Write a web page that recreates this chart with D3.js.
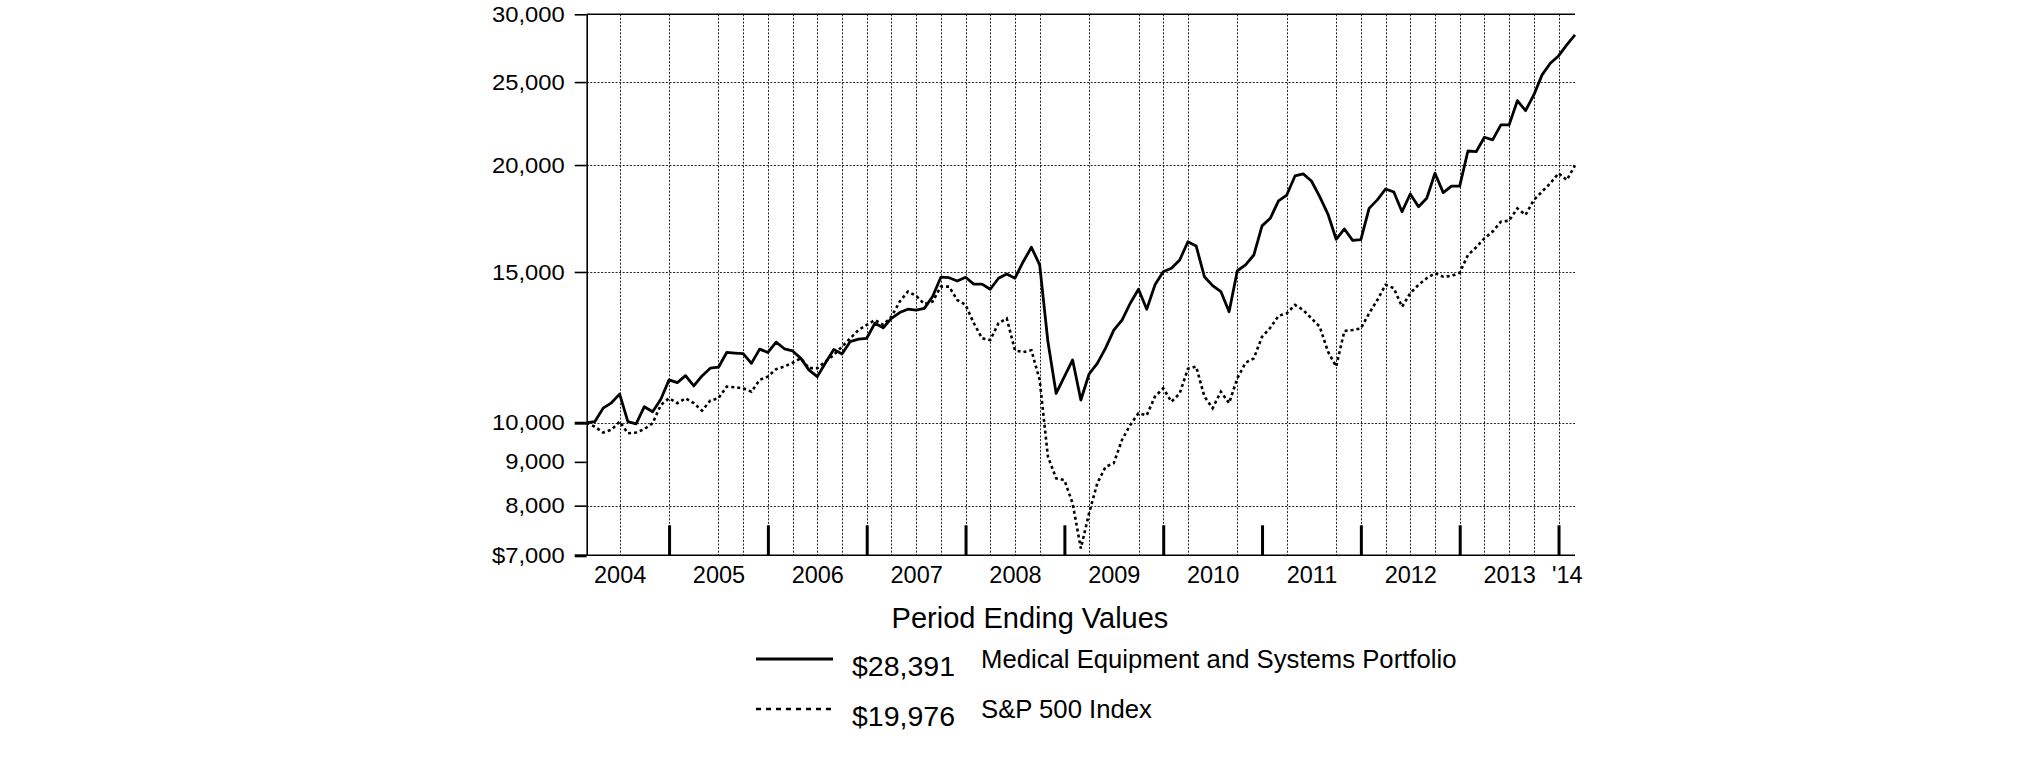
<!DOCTYPE html>
<html><head><meta charset="utf-8">
<script src="https://cdn.jsdelivr.net/npm/d3@7"></script>
<style>html,body{margin:0;padding:0;background:#fff;} svg{display:block;}</style>
</head><body>
<svg id="chart" width="2025" height="761"></svg>
<script>
// ---- data (month-end values, Feb 2004 .. Feb 2014) ----
const portfolio = [
10000, 10030, 10400, 10550, 10800, 10030, 9970, 10440, 10300, 10650,
11220, 11140, 11350, 11040, 11340, 11580, 11610, 12080, 12060, 12040,
11730, 12190, 12080, 12420, 12200, 12130, 11890, 11520, 11320, 11750,
12180, 12030, 12440, 12520, 12550, 13070, 12910, 13240, 13450, 13570,
13540, 13600, 14040, 14790, 14770, 14640, 14790, 14520, 14520, 14320,
14750, 14920, 14750, 15420, 16030, 15290, 12440, 10820, 11320, 11840,
10630, 11400, 11730, 12220, 12830, 13180, 13790, 14320, 13570, 14490,
15010, 15150, 15490, 16270, 16090, 14810, 14460, 14230, 13480, 15050,
15290, 15700, 16980, 17330, 18160, 18450, 19420, 19530, 19160, 18370,
17530, 16380, 16840, 16330, 16360, 17800, 18210, 18750, 18600, 17640,
18500, 17880, 18290, 19560, 18570, 18900, 18900, 20770, 20730, 21550,
21400, 22280, 22280, 23780, 23150, 24150, 25490, 26300, 26820, 27630,
28391];
const sp500 = [
10000, 9890, 9740, 9810, 10030, 9720, 9740, 9830, 9985, 10490,
10680, 10540, 10680, 10540, 10330, 10610, 10680, 11020, 11000, 10970,
10870, 11220, 11320, 11550, 11630, 11750, 11890, 11580, 11580, 11790,
12000, 12270, 12550, 12830, 13010, 13180, 13010, 13300, 13850, 14230,
14070, 13760, 13850, 14420, 14420, 13910, 13730, 13070, 12550, 12490,
13070, 13240, 12150, 12090, 12150, 11220, 9130, 8610, 8570, 8050,
7130, 7840, 8500, 8880, 8970, 9550, 9940, 10260, 10200, 10730,
10970, 10580, 10820, 11560, 11630, 10730, 10400, 10870, 10540, 11270,
11750, 11890, 12600, 12910, 13330, 13420, 13730, 13540, 13240, 12950,
12110, 11630, 12800, 12830, 12890, 13420, 13910, 14490, 14360, 13660,
14170, 14490, 14750, 14950, 14810, 14840, 14970, 15700, 16030, 16420,
16720, 17170, 17220, 17800, 17490, 18210, 18620, 19040, 19560, 19210,
19976];
const firstMonth = "2004-02";
const lastMonth = "2014-02";
const yTicks = [7000, 8000, 9000, 10000, 15000, 20000, 25000, 30000];
const yTickLabels = ["$7,000", "8,000", "9,000", "10,000", "15,000", "20,000", "25,000", "30,000"];
const yGridValues = [8000, 10000, 15000, 20000, 25000];
const gridMonths = ["2004-06","2004-12","2005-06","2005-09","2005-12","2006-03","2006-06","2006-09",
  "2006-12","2007-03","2007-06","2007-09","2007-12","2008-03","2008-06","2008-09","2009-03","2009-09",
  "2009-12","2010-03","2010-09","2011-03","2011-09","2011-12","2012-03","2012-06","2012-09","2012-12",
  "2013-03","2013-06","2013-09","2013-12"];
const yearTickMonths = ["2004-12","2005-12","2006-12","2007-12","2008-12","2009-12","2010-12","2011-12","2012-12","2013-12"];
const yearLabelMonths = ["2004-06","2005-06","2006-06","2007-06","2008-06","2009-06","2010-06","2011-06","2012-06","2013-06","2014-01"];
const yearLabels = ["2004","2005","2006","2007","2008","2009","2010","2011","2012","2013","'14"];
const legendTitle = "Period Ending Values";
const seriesNames = ["Medical Equipment and Systems Portfolio", "S&P 500 Index"];
const seriesEndLabels = ["$28,391", "$19,976"];

// ---- layout ----
const fmt = d3.timeFormat("%Y-%m"), parse = d3.timeParse("%Y-%m");
const months = d3.timeMonth.range(parse(firstMonth), d3.timeMonth.offset(parse(lastMonth), 1)).map(fmt);
const L = 586.7, R = 1575, T = 14.3, B = 555.3;
const x = d3.scalePoint().domain(months).range([L, R]);
const y = d3.scaleLog().domain([7000, 30000]).range([B, T]);
const FONT = "'Liberation Sans', Arial, Helvetica, sans-serif";

const svg = d3.select("#chart");
svg.append("rect").attr("width", 2025).attr("height", 761).attr("fill", "#fff");

// gridlines
const grid = svg.append("g").attr("stroke", "#222").attr("stroke-width", 1).attr("stroke-dasharray", "2,1.6");
grid.selectAll("line.h").data(yGridValues).join("line").attr("class", "h")
  .attr("x1", L).attr("x2", R).attr("y1", d => Math.round(y(d)) + 0.5).attr("y2", d => Math.round(y(d)) + 0.5);
grid.selectAll("line.v").data(gridMonths).join("line").attr("class", "v")
  .attr("x1", d => Math.round(x(d)) + 0.5).attr("x2", d => Math.round(x(d)) + 0.5).attr("y1", T).attr("y2", B);

// y axis
const yAxis = d3.axisLeft(y).tickValues(yTicks).tickFormat((d, i) => yTickLabels[i]).tickSizeInner(12).tickSizeOuter(0).tickPadding(10);
const gy = svg.append("g").attr("transform", `translate(${L},0)`).call(yAxis);
gy.select(".domain").attr("stroke", "#000").attr("stroke-width", 1.6);
gy.selectAll(".tick line").attr("stroke", "#000").attr("stroke-width", d => (d === 10000 || d === 7000) ? 3 : 1.6);
gy.selectAll(".tick text").attr("font-family", FONT).attr("font-size", 22).attr("fill", "#000")
  .attr("transform", "scale(1.08,1)").attr("x", -22 / 1.08);

// top border and bottom axis line
svg.append("line").attr("x1", L).attr("x2", R).attr("y1", T).attr("y2", T).attr("stroke", "#000").attr("stroke-width", 1.6);
svg.append("line").attr("x1", L).attr("x2", R).attr("y1", B).attr("y2", B).attr("stroke", "#000").attr("stroke-width", 1.6);

// x axis year ticks (thick, pointing up)
const xTicks = d3.axisBottom(x).tickValues(yearTickMonths).tickFormat("").tickSizeInner(-30).tickSizeOuter(0);
const gx = svg.append("g").attr("transform", `translate(0,${B})`).call(xTicks);
gx.select(".domain").remove();
gx.selectAll(".tick line").attr("stroke", "#000").attr("stroke-width", 3);

// x labels
const xLab = d3.axisBottom(x).tickValues(yearLabelMonths).tickFormat((d, i) => yearLabels[i]).tickSize(0).tickPadding(11);
const gxl = svg.append("g").attr("transform", `translate(0,${B})`).call(xLab);
gxl.select(".domain").remove();
gxl.selectAll(".tick text").attr("font-family", FONT).attr("font-size", 23.5).attr("fill", "#000").attr("dy", "0.71em");

// series lines
const line = d3.line().x((d, i) => x(months[i])).y(d => y(d));
svg.append("path").datum(sp500).attr("d", line).attr("fill", "none").attr("stroke", "#000")
  .attr("stroke-width", 2.6).attr("stroke-dasharray", "3,3");
svg.append("path").datum(portfolio).attr("d", line).attr("fill", "none").attr("stroke", "#000")
  .attr("stroke-width", 2.8).attr("stroke-linejoin", "round");

// legend
const lg = svg.append("g").attr("font-family", FONT).attr("fill", "#000");
lg.append("text").attr("x", 1030).attr("y", 628).attr("text-anchor", "middle").attr("font-size", 29).text(legendTitle);
const rows = [{y: 659, dash: null, w: 3}, {y: 709, dash: "5,5", w: 2.6}];
rows.forEach((r, i) => {
  lg.append("line").attr("x1", 756).attr("x2", 833).attr("y1", r.y).attr("y2", r.y)
    .attr("stroke", "#000").attr("stroke-width", r.w).attr("stroke-dasharray", r.dash);
  lg.append("text").attr("x", 852).attr("y", r.y + 17).attr("font-size", 28.5).text(seriesEndLabels[i]);
  lg.append("text").attr("x", 981).attr("y", r.y + 9).attr("font-size", 25.7).text(seriesNames[i]);
});
</script>
</body></html>
